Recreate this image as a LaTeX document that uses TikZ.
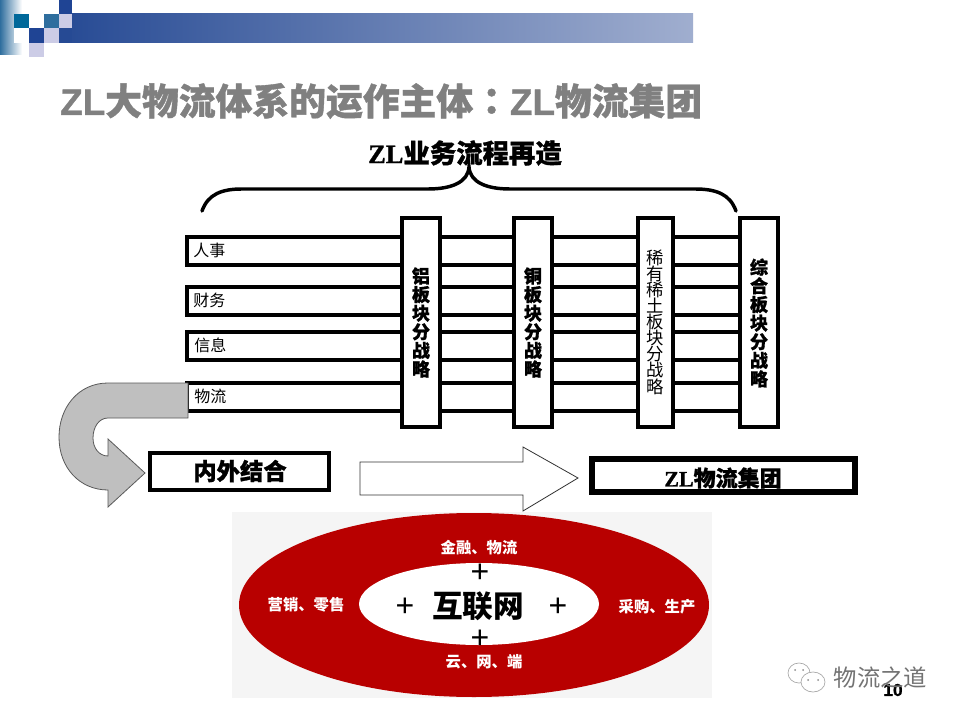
\documentclass[tikz,border=0pt]{standalone}
\usepackage{fontspec}
\setmainfont{Liberation Serif}[BoldFeatures={FakeBold=1}]
\newfontfamily\cjk{Noto Sans CJK SC}
\newfontfamily\cjkh{Noto Sans CJK SC}[BoldFeatures={FakeBold=1}]
\newfontfamily\cjktc{Noto Sans CJK TC}[BoldFeatures={FakeBold=1}]
\newfontfamily\hei{Liberation Sans}[BoldFeatures={FakeBold=1}]
\usetikzlibrary{calc}
\definecolor{barL}{HTML}{264A94}
\definecolor{barR}{HTML}{A0AECF}
\definecolor{teal}{HTML}{00689A}
\definecolor{navy}{HTML}{1F4494}
\definecolor{lav}{HTML}{CCCCE6}
\definecolor{tealm}{HTML}{2F6E9E}
\definecolor{ringred}{HTML}{B80000}
\tikzset{
  px/.style={x=0.75pt,y=-0.75pt},
  framebox/.style={draw=black,line width=3pt,rectangle,inner sep=0pt,outer sep=0pt},
  colbox/.style={framebox,fill=white,minimum width=28.5pt,minimum height=156.75pt},
  rowbox/.style={framebox,minimum width=429.5pt,minimum height=21pt},
  rowlabel/.style={anchor=west,inner sep=0pt,font=\cjk\fontsize{12}{12}\selectfont},
  collabel/.style={inner sep=0pt,align=center,font=\cjkh\bfseries\fontsize{13.5}{13.95}\selectfont},
  collabelthin/.style={inner sep=0pt,align=center,font=\cjk\fontsize{13}{12}\selectfont},
  ringtext/.style={inner sep=0pt,text=white,font=\cjk\bfseries\fontsize{11.5}{12}\selectfont},
  plusmark/.style={inner sep=0pt,font=\hei\fontsize{24}{24}\selectfont},
}
\begin{document}
\begin{tikzpicture}[px]
\useasboundingbox (0,0) rectangle (960,720);
\fill[white] (0,0) rectangle (960,720);
% banner
\shade[left color=barL,right color=barR,draw=none] (59,14) rectangle (693,43);
\shade[left color=tealm,right color=white,draw=none] (0,0) rectangle (22,55);
\fill[white] (14,14) rectangle (72,43);
\fill[barL] (59,28) rectangle (72,43);
\fill[navy] (59,0) rectangle (72,14);
\fill[lav] (59,14) rectangle (72,28);
\fill[teal] (14,14) rectangle (29,28);
\fill[tealm] (44,14) rectangle (59,28);
\fill[navy] (29,28) rectangle (44,43);
\fill[lav] (44,28) rectangle (59,43);
\fill[lav] (29,43) rectangle (44,57);
% title
\node[anchor=west,inner sep=0pt,text=black!50] (title) at (60,101)
  {\bfseries\fontsize{27.6}{27.6}\selectfont\hei ZL\cjkh 大物流体系的运作主体\cjktc ：\hei ZL\cjkh 物流集团};
\node[inner sep=0pt] (sub) at (465,153)
  {\fontsize{19.8}{19.8}\selectfont\bfseries ZL\cjkh 业务流程再造};
% brace
\coordinate (bl) at (202,211);
\coordinate (bm) at (469,167);
\coordinate (br) at (736,211);
\draw[line width=2.6pt,line cap=round]
  (bl) .. controls (208,194) and (222,189) .. (242,189)
  -- (428,189) .. controls (452,189) and (468,182) .. (bm)
  .. controls (470,182) and (486,189) .. (510,189)
  -- (695,189) .. controls (716,189) and (730,194) .. (br);
% rows
\node[rowbox] (r1) at (473,251) {};
\node[rowbox] (r2) at (473,300.7) {};
\node[rowbox] (r3) at (473,346) {};
\node[rowbox] (r4) at (473,397) {};
\node[rowlabel] (l1) at (193,250) {人事};
\node[rowlabel] (l2) at (193,300) {财务};
\node[rowlabel] (l3) at (194,345) {信息};
\node[rowlabel] (l4) at (194,396) {物流};
% columns
\node[colbox] (c1) at (421,322.5) {};
\node[colbox] (c2) at (533,322.5) {};
\node[colbox,minimum width=26.25pt] (c3) at (655.5,322.5) {};
\node[colbox] (c4) at (759,322.5) {};
\node[collabel] (t1) at (421,322.5) {铝\\板\\块\\分\\战\\略};
\node[collabel] (t2) at (533,322.5) {铜\\板\\块\\分\\战\\略};
\node[collabelthin] (t3) at (655,322.5) {稀\\有\\稀\\土\\板\\块\\分\\战\\略};
\node[collabel] (t4) at (759,323) {综\\合\\板\\块\\分\\战\\略};
% grey U-turn arrow
\draw[draw=black!65,fill=black!25,line width=0.6pt,line join=miter]
  (188,383) -- (108,383)
  .. controls (78,383) and (59,408) .. (59,437)
  .. controls (59,468) and (80,490) .. (108,490)
  -- (108,507) -- (145,473) -- (108,439) -- (108,456)
  .. controls (99,456) and (93,448) .. (93,438)
  .. controls (93,427) and (99,418) .. (108,418)
  -- (188,418) -- cycle;
% boxes
\node[framebox,minimum width=134.25pt,minimum height=27.75pt] (inout) at (239,471.5) {};
\node[inner sep=0pt,font=\cjkh\bfseries\fontsize{17.5}{17.5}\selectfont] (inoutt) at (240,471) {内外结合};
\node[framebox,line width=4.5pt,minimum width=197.25pt,minimum height=24.75pt] (group) at (723.5,475.5) {};
\node[inner sep=0pt] (groupt) at (723,478)
  {\fontsize{16.5}{16.5}\selectfont\bfseries ZL\cjkh 物流集团};
% white arrow
\draw[draw=black!80,fill=white,line width=0.6pt,line join=miter]
  (360,462) -- (523,462) -- (523,447) -- (578,478) -- (523,511) -- (523,495) -- (360,495) -- cycle;
% ring picture
\fill[black!4] (232,512) rectangle (712,698);
\fill[ringred] (474,605) ellipse [x radius=235,y radius=92];
\fill[white] (479,604) ellipse [x radius=120,y radius=41];
\node[ringtext] (a) at (479,548) {金融、物流};
\node[ringtext] (b) at (306,605) {营销、零售};
\node[ringtext] (c) at (657,607) {采购、生产};
\node[ringtext] (d) at (484,662) {云、网、端};
\node[inner sep=0pt,font=\cjk\bfseries\fontsize{23}{23}\selectfont] (net) at (478,606) {互联网};
\node[plusmark] (p1) at (480,573) {+};
\node[plusmark] (p2) at (405,607) {+};
\node[plusmark] (p3) at (558,607) {+};
\node[plusmark] (p4) at (480,639) {+};
% watermark
\node[inner sep=0pt,font=\hei\bfseries\fontsize{13}{13}\selectfont] (pg) at (893,690) {10};
\draw[black!35,line width=0.5pt] (799,673) ellipse [x radius=11,y radius=10];
\draw[black!35,line width=0.5pt,fill=white] (813,682) ellipse [x radius=12,y radius=10];
\fill[black!45] (808,680) circle (1) (818,680) circle (1) (795,670) circle (1) (803,670) circle (1);
\node[inner sep=0pt,text=black!55,font=\cjk\fontsize{17.5}{18}\selectfont] (wm) at (880.5,678) {物流之道};
\end{tikzpicture}
\end{document}
